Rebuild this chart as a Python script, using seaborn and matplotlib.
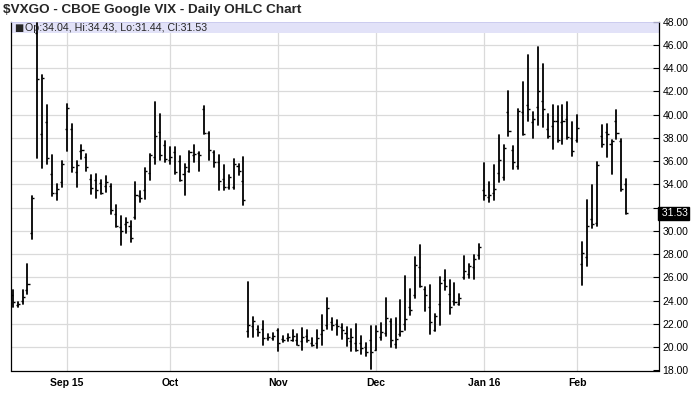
import numpy as np
import pandas as pd
import matplotlib
matplotlib.use("Agg")
import matplotlib.pyplot as plt
import seaborn as sns

# ---------------- data ----------------
start_date = "2015-08-17"
end_date = "2016-02-16"
holidays = ["2015-09-07", "2015-11-26", "2015-12-25", "2016-01-01",
            "2016-01-18", "2016-02-15"]

opens = [24.5, 23.6, 24.0, 24.9, 29.8, 47.0, 38.3, 39.4, 34.9, 33.3,
         34.2, 38.8, 38.8, 35.1, 36.9, 36.4, 34.5, 34.4, 34.1, 33.9,
         33.9, 31.5, 30.3, 30.6, 30.4, 31.2, 33.0, 33.5, 35.0, 36.4,
         38.5, 37.4, 36.1, 36.8, 36.0, 34.9, 35.2, 36.5, 36.7, 40.5,
         38.4, 36.8, 35.9, 34.5, 33.8, 33.8, 35.6, 34.3, 21.4, 21.8,
         21.6, 21.6, 20.8, 20.8, 21.5, 20.7, 20.8, 20.6, 20.6, 20.5,
         21.0, 20.4, 20.4, 21.1, 21.9, 22.2, 22.0, 21.7, 21.2, 20.5,
         20.4, 20.4, 20.0, 20.6, 19.8, 20.9, 21.2, 22.3, 20.3, 21.1,
         22.0, 23.5, 24.5, 26.9, 25.0, 23.5, 21.5, 23.7, 25.8, 24.6,
         24.0, 23.7, 26.0, 26.3, 26.9, 27.9, 33.5, 32.9, 33.3, 35.0,
         34.6, 40.2, 37.0, 35.6, 40.2, 40.8, 39.4, 40.7, 41.2, 38.8,
         39.0, 39.5, 39.4, 39.6, 38.0, 37.8, 27.2, 27.8, 31.0, 30.7,
         38.2, 38.5, 37.5, 39.5, 37.7, 34.04]
highs = [24.9, 23.9, 24.9, 27.2, 33.0, 47.9, 43.4, 40.8, 36.5, 34.05,
         36.0, 40.94, 39.2, 36.06, 37.4, 36.6, 34.8, 34.86, 34.4, 34.7,
         34.0, 32.27, 31.26, 31.15, 30.9, 34.17, 33.4, 35.4, 36.66, 41.06,
         40.1, 37.75, 37.2, 37.2, 36.43, 35.74, 36.9, 37.38, 36.8, 40.74,
         38.5, 36.9, 36.5, 35.66, 34.8, 36.15, 35.8, 36.37, 25.6, 22.6,
         21.8, 22.3, 21.16, 21.2, 21.6, 20.93, 21.16, 21.45, 21.16, 21.68,
         21.45, 20.82, 21.45, 22.8, 24.2, 22.54, 22.36, 22.02, 21.73, 21.59,
         21.96, 20.93, 20.35, 21.79, 21.79, 22.08, 24.26, 22.45, 22.54, 24.03,
         26.15, 24.98, 27.76, 28.82, 25.18, 25.32, 22.88, 26.04, 26.61, 25.75,
         25.55, 24.6, 27.82, 27.2, 27.96, 28.9, 35.86, 34.22, 35.66, 38.24,
         37.38, 42.06, 37.29, 40.45, 42.84, 45.13, 40.25, 45.79, 44.36, 40.05,
         40.82, 40.74, 40.82, 41.11, 39.39, 39.96, 29.05, 32.64, 33.93, 35.94,
         39.1, 39.16, 37.81, 40.39, 37.87, 34.43]
lows = [23.5, 23.5, 23.7, 24.6, 29.3, 36.3, 35.4, 35.8, 33.05, 32.7,
        33.76, 36.9, 35.1, 33.76, 36.2, 35.2, 33.2, 32.8, 33.2, 33.36,
        31.5, 30.3, 28.77, 29.8, 29.05, 31.07, 32.5, 32.73, 34.37, 35.8,
        36.1, 35.94, 35.74, 34.94, 34.3, 33.07, 35.1, 35.94, 35.14, 38.3,
        36.1, 35.46, 33.5, 33.56, 33.65, 33.6, 34.8, 32.2, 20.9, 20.9,
        21.0, 20.2, 20.59, 20.65, 19.67, 20.45, 20.53, 20.53, 20.16, 19.78,
        20.45, 20.07, 19.96, 20.2, 21.6, 21.45, 21.02, 20.73, 20.07, 19.72,
        19.67, 19.38, 19.29, 18.14, 19.78, 20.64, 20.93, 20.01, 19.95, 21.0,
        21.45, 22.79, 24.23, 25.18, 23.08, 21.16, 21.39, 21.88, 24.89, 22.88,
        23.66, 23.6, 25.9, 25.95, 25.9, 27.62, 32.64, 32.5, 32.7, 34.22,
        34.37, 38.15, 35.37, 35.37, 38.24, 39.47, 38.04, 39.1, 38.96, 38.04,
        37.09, 37.67, 37.47, 37.95, 36.43, 37.67, 25.32, 26.96, 30.29, 30.4,
        37.24, 36.37, 34.94, 37.95, 33.45, 31.44]
closes = [23.9, 23.7, 24.3, 25.4, 32.8, 43.1, 43.2, 36.3, 33.3, 33.6,
          35.8, 40.6, 35.5, 35.7, 37.0, 35.5, 33.7, 33.5, 33.3, 34.2,
          31.8, 30.4, 30.0, 30.8, 29.4, 33.1, 32.8, 35.2, 36.5, 38.2,
          36.5, 36.2, 36.4, 35.1, 34.4, 35.5, 36.8, 36.6, 36.5, 38.4,
          37.0, 35.9, 34.3, 33.8, 34.6, 35.8, 35.2, 32.7, 21.9, 22.3,
          21.3, 20.8, 20.9, 21.0, 20.4, 20.6, 20.9, 21.0, 20.2, 20.9,
          20.6, 20.2, 20.8, 21.5, 23.4, 21.9, 21.8, 21.5, 20.8, 20.9,
          19.8, 19.9, 19.6, 19.6, 21.4, 21.3, 22.5, 20.6, 20.7, 21.4,
          22.4, 23.2, 27.1, 25.3, 24.5, 22.2, 22.7, 25.5, 25.3, 23.5,
          23.9, 24.2, 26.6, 27.0, 27.6, 28.6, 33.1, 33.1, 33.6, 36.1,
          37.1, 38.6, 35.9, 40.3, 38.3, 40.5, 39.6, 42.0, 40.5, 38.2,
          39.5, 37.8, 39.5, 38.1, 36.9, 38.9, 28.1, 30.4, 30.6, 35.7,
          37.5, 38.3, 37.7, 38.4, 33.6, 31.53]

month_labels = ["Sep 15", "Oct", "Nov", "Dec", "Jan 16", "Feb"]
y_ticks = [18, 20, 22, 24, 26, 28, 30, 32, 34, 36, 38, 40, 42, 44, 46, 48]
title = "$VXGO - CBOE Google VIX - Daily OHLC Chart"

# ---------------- prep ----------------
dates = pd.bdate_range(start_date, end_date)
dates = dates[~dates.isin(pd.to_datetime(holidays))]
n = len(opens)
dates = dates[:n]
idx = np.arange(n)

month_start = [i for i in range(1, n) if dates[i].month != dates[i - 1].month]

df = pd.DataFrame({
    "pos": np.repeat(idx, 2),
    "price": np.column_stack([lows, highs]).ravel(),
    "bar": np.repeat(idx, 2),
})

# ---------------- style ----------------
sns.set_style("white")
plt.rcParams["font.family"] = ["Liberation Sans", "DejaVu Sans"]

W, H = 700, 411
fig = plt.figure(figsize=(W / 100, H / 100), dpi=100)
x0, x1 = 10.7, 659.0
y0, y1 = 21.7, 370.5
ax = fig.add_axes([x0 / W, 1 - y1 / H, (x1 - x0) / W, (y1 - y0) / H])

grid_c = "#DADADA"
for v in y_ticks[1:-1]:
    ax.axhline(v, color=grid_c, lw=0.9, zorder=0)
for m in month_start:
    ax.axvline(m, color=grid_c, lw=0.9, zorder=0)

ax.axhspan(47.0, 48.0, color="#E2E2F8", zorder=0.5, lw=0)

sns.lineplot(data=df, x="pos", y="price", units="bar", estimator=None,
             color="black", lw=1.3, ax=ax, legend=False, sort=False, zorder=3)
tick_w = 0.42
ax.hlines(opens, idx - tick_w, idx, color="black", lw=1.0, zorder=3)
ax.hlines(closes, idx, idx + tick_w, color="black", lw=1.0, zorder=3)

ax.set_xlim(-0.42, 131.67)
ax.set_ylim(18, 48)
ax.set_xlabel("")
ax.set_ylabel("")

ax.set_xticks(month_start)
ax.set_xticklabels(month_labels[:len(month_start)], fontsize=7.5,
                   fontweight="bold")
ax.tick_params(axis="x", direction="out", length=3, width=0.8, pad=2.5,
               colors="black")

ax.yaxis.tick_right()
ax.set_yticks(y_ticks)
last = closes[-1]
ax.set_yticklabels(["" if abs(v - last) < 1.2 else f"{v:.2f}" for v in y_ticks],
                   fontsize=7.5)
ax.tick_params(axis="y", direction="in", length=4, width=0.8, pad=2.5,
               colors="black")

for s in ["left", "bottom", "right"]:
    ax.spines[s].set_color("black")
    ax.spines[s].set_linewidth(0.9)
ax.spines["top"].set_color("#C8C8EE")
ax.spines["top"].set_linewidth(0.6)

ax.text(1.0, last, f" {last:.2f}", transform=ax.get_yaxis_transform(),
        ha="left", va="center", fontsize=7.5, color="white",
        bbox=dict(facecolor="black", edgecolor="black", pad=1.0), zorder=5,
        clip_on=False)

fig.text(3 / W, 1 - 9.5 / H, title, fontsize=9.7, fontweight="bold",
         va="center", ha="left")
fig.text(14 / W, 1 - 28 / H, "\u25a0", fontsize=7, va="center", ha="left",
         family="DejaVu Sans")
info = (f"Op:{opens[-1]:.2f}, Hi:{highs[-1]:.2f}, "
        f"Lo:{lows[-1]:.2f}, Cl:{closes[-1]:.2f}")
fig.text(25 / W, 1 - 28 / H, info, fontsize=7.7, va="center", ha="left")

fig.savefig("out.png", dpi=100)
